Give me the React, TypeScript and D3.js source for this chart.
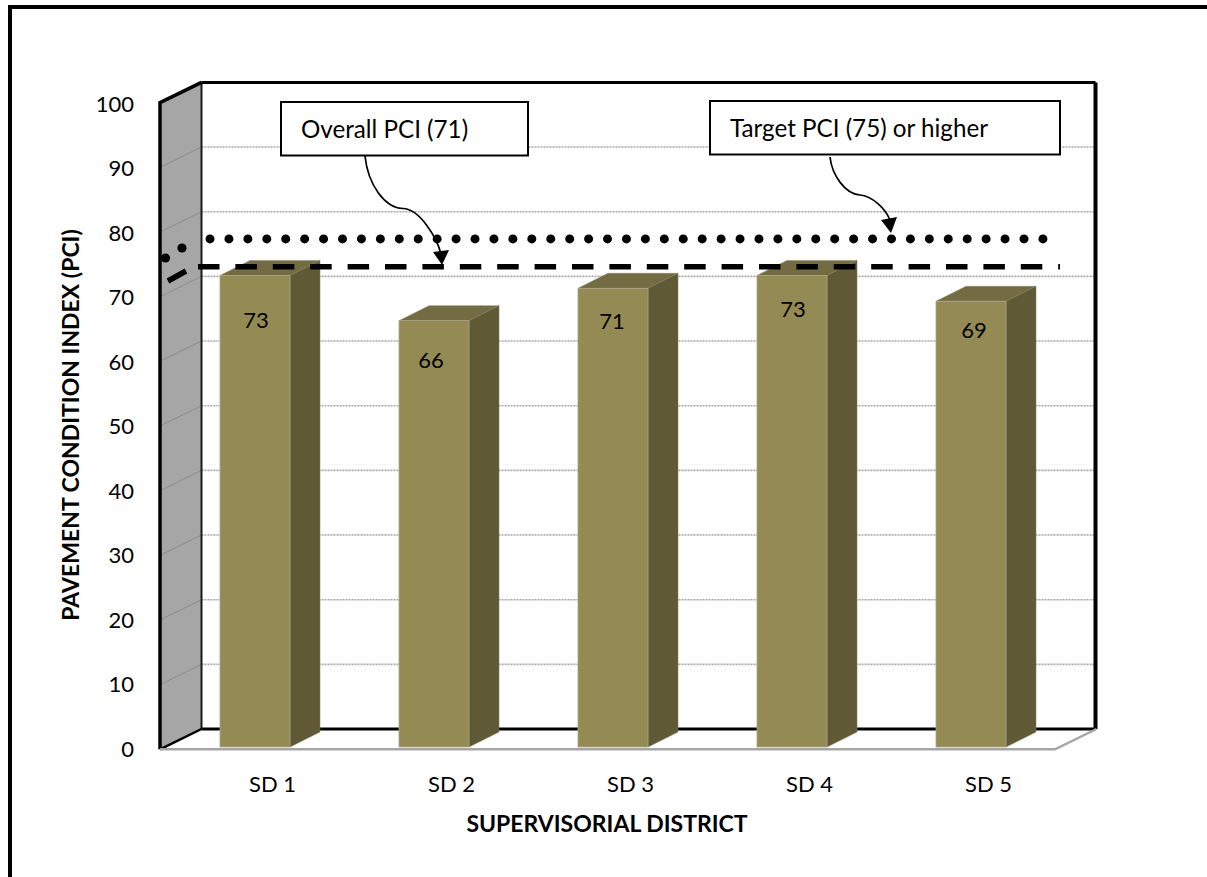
import React from "react";
import * as d3 from "d3";

const categories = ["SD 1", "SD 2", "SD 3", "SD 4", "SD 5"];
const values = [73, 66, 71, 73, 69];
const yTicks = [0, 10, 20, 30, 40, 50, 60, 70, 80, 90, 100];
const overallPci = 71.5;
const targetPci = 75.8;
const labelShiftX = [36, 32, 34, 36, 38];
const labelShiftY = [53, 47, 41, 42, 37];
const font = "Lato, 'Open Sans', sans-serif";

const W = 1207, H = 877;
const fx0 = 160, fx1 = 1055, fy0 = 749.3, fy1 = 102.7;
const dx = 41.5, dy = -20.3;
const backW = 894;
const barW = 70, barDx = 30, barDy = -15, barBase = 747;

const yFront = d3.scaleLinear().domain([0, 100]).range([fy0, fy1]);
const yBack = d3.scaleLinear().domain([0, 100]).range([fy0 + dy, fy1 + dy]);
const yBar = d3.scaleLinear().domain([0, 100]).range([barBase, barBase - 646]);
const yLabel = d3.scaleLinear().domain([0, 100]).range([756.7, 112]);
const xBar = d3.scalePoint<string>().domain(categories).range([220, 936]);
const poly = (p: number[][]) => p.map((q) => q.join(",")).join(" ");

export default function App() {
  const dotsY = yBack(targetPci);
  const dashY = yBack(overallPci);
  const dots = d3.range(210, 1050, 18.93);
  const bx = fx0 + dx;
  return (
    <svg width={W} height={H} style={{ position: "absolute", left: 0, top: 0, background: "#fff" }} fontFamily={font}>
      <path d={`M10,${H} V7 H${W}`} fill="none" stroke="#000" strokeWidth={4} />
      {/* walls */}
      <polygon points={poly([[fx0, fy0], [bx, fy0 + dy], [bx, fy1 + dy], [fx0, fy1]])} fill="#a6a6a6" />
      {yTicks.slice(1, -1).map((t) => (
        <g key={t}>
          <line x1={fx0} x2={bx} y1={yFront(t)} y2={yBack(t)} stroke="#8c8c8c" strokeWidth={1} />
          <line x1={bx} x2={bx + backW} y1={yBack(t)} y2={yBack(t)} stroke="#a8a8a8" strokeWidth={1.6} strokeDasharray="2 1" />
        </g>
      ))}
      <path d={`M${bx},${fy0 + dy} V${fy1 + dy}`} stroke="#1a1a1a" strokeWidth={2} fill="none" />
      <path d={`M${bx},${fy1 + dy} H${bx + backW}`} stroke="#000" strokeWidth={3} fill="none" />
      <path d={`M${bx},${fy0 + dy} H${bx + backW}`} stroke="#000" strokeWidth={3} fill="none" />
      <path d={`M${bx + backW},${fy1 + dy} V${fy0 + dy}`} stroke="#000" strokeWidth={4} fill="none" />
      <path d={`M${fx0},${fy0} L${bx},${fy0 + dy}`} stroke="#000" strokeWidth={2.5} />
      <path d={`M${fx0},${fy0} V${fy1} L${bx},${fy1 + dy}`} fill="none" stroke="#000" strokeWidth={3.5} />
      <path d={`M${fx0},${fy0} H${fx1} L${fx1 + dx},${fy0 + dy}`} fill="none" stroke="#a6a6a6" strokeWidth={2.5} />
      {/* bars */}
      {categories.map((c, i) => {
        const x = xBar(c) as number;
        const top = yBar(values[i]);
        return (
          <g key={c}>
            <polygon points={poly([[x, top], [x + barDx, top + barDy], [x + barW + barDx, top + barDy], [x + barW, top]])} fill="#736c43" stroke="#8a8465" strokeWidth={0.5} />
            <polygon points={poly([[x + barW, top], [x + barW + barDx, top + barDy], [x + barW + barDx, barBase + barDy], [x + barW, barBase]])} fill="#5f5936" stroke="#7d7858" strokeWidth={0.5} />
            <rect x={x} y={top} width={barW} height={barBase - top} fill="#948a54" stroke="#aaa588" strokeWidth={0.8} />
            <text x={x + labelShiftX[i]} y={top + labelShiftY[i]} fontSize={22} textAnchor="middle" fill="#000">{values[i]}</text>
            <text x={x + 52.5} y={792} fontSize={22} textAnchor="middle" fill="#000">{c}</text>
          </g>
        );
      })}
      {/* y labels */}
      {yTicks.map((t) => (
        <text key={t} x={134} y={yLabel(t)} fontSize={22} textAnchor="end" fill="#000">{t}</text>
      ))}
      <text transform="translate(79,425) rotate(-90)" fontSize={23} fontWeight={700} textAnchor="middle">PAVEMENT CONDITION INDEX (PCI)</text>
      <text x={607} y={832} fontSize={23} fontWeight={700} textAnchor="middle">SUPERVISORIAL DISTRICT</text>
      {/* reference lines */}
      {dots.map((x) => <circle key={x} cx={x} cy={dotsY} r={4.5} fill="#000" />)}
      <circle cx={165.5} cy={258} r={4.6} fill="#000" />
      <circle cx={182} cy={248} r={4.6} fill="#000" />
      <line x1={198} x2={1060} y1={dashY} y2={dashY} stroke="#000" strokeWidth={5.5} strokeDasharray="21.5 15.9" />
      <line x1={168} x2={186} y1={281} y2={271} stroke="#000" strokeWidth={5.5} />
      {/* callouts */}
      <rect x={281} y={102} width={247} height={53.5} fill="#fff" stroke="#000" strokeWidth={2} />
      <text x={301} y={138} fontSize={24.2} fill="#000">Overall PCI (71)</text>
      <rect x={710} y={101} width={350} height={53.5} fill="#fff" stroke="#000" strokeWidth={2} />
      <text x={730} y={137} fontSize={24.2} fill="#000">Target PCI (75) or higher</text>
      <path d="M365,156 C368,185 385,208 403,208.5 C420,209 437,238 441,254" fill="none" stroke="#000" strokeWidth={1.7} />
      <polygon points="433,252 449,250 442,265" fill="#000" />
      <path d="M830,157 C832,175 845,194 860,195 C872,196 885,208 890,220" fill="none" stroke="#000" strokeWidth={1.7} />
      <polygon points="881,220 897,217 891,233" fill="#000" />
    </svg>
  );
}
